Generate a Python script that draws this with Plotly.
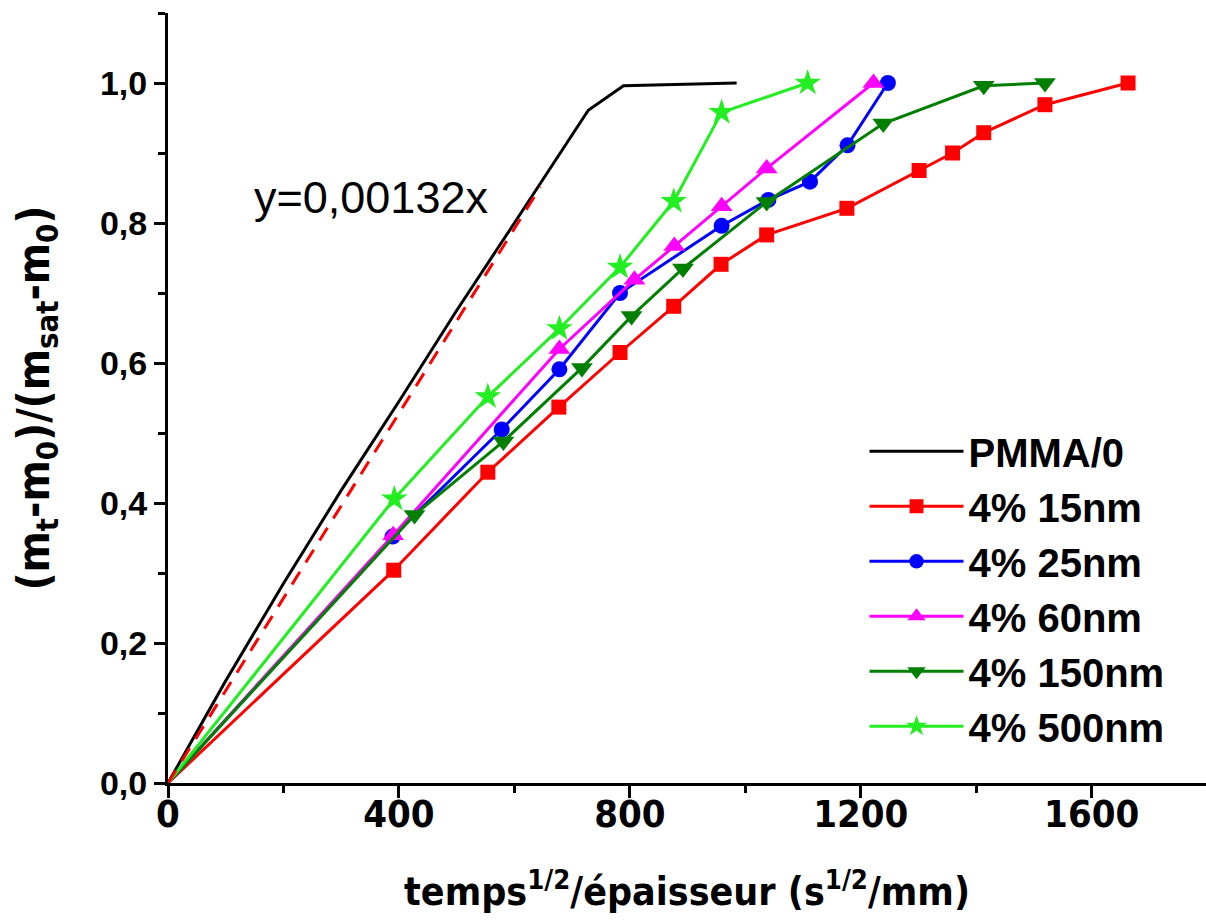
import plotly.graph_objects as go

# ---- data ----
pmma_x = [0, 100, 200, 300, 400, 500, 600, 728, 789, 985]
pmma_y = [0, 0.146, 0.285, 0.418, 0.545, 0.675, 0.800, 0.961, 0.996, 1.0]

fit_slope = 0.00132
fit_x = [0, 645]

nm15_x = [0, 391, 554, 677, 783, 876, 958, 1037, 1176, 1301, 1359, 1413, 1519, 1663]
nm15_y = [0, 0.304, 0.444, 0.537, 0.615, 0.681, 0.741, 0.783, 0.821, 0.875, 0.900, 0.929, 0.969, 1.0]

nm25_x = [0, 389, 578, 678, 783, 959, 1040, 1112, 1177, 1247]
nm25_y = [0, 0.352, 0.505, 0.591, 0.700, 0.796, 0.833, 0.859, 0.911, 1.0]

nm60_x = [0, 390, 678, 808, 877, 959, 1037, 1222]
nm60_y = [0, 0.354, 0.620, 0.719, 0.767, 0.824, 0.878, 1.0]

nm150_x = [0, 427, 581, 717, 803, 892, 1037, 1239, 1413, 1519]
nm150_y = [0, 0.383, 0.488, 0.593, 0.667, 0.735, 0.830, 0.942, 0.996, 1.0]

nm500_x = [0, 392, 554, 678, 783, 876, 959, 1108]
nm500_y = [0, 0.406, 0.552, 0.649, 0.737, 0.831, 0.958, 1.0]

y_tickvals = [0, 0.2, 0.4, 0.6, 0.8, 1.0]
y_ticktext = ["0,0", "0,2", "0,4", "0,6", "0,8", "1,0"]
x_tickvals = [0, 400, 800, 1200, 1600]
x_ticktext = ["0", "400", "800", "1200", "1600"]

series = [
    ("4% 15nm", nm15_x, nm15_y, "#ff0000", "square", 15),
    ("4% 25nm", nm25_x, nm25_y, "#0000ff", "circle", 16),
    ("4% 60nm", nm60_x, nm60_y, "#ff00ff", "triangle-up", 19),
    ("4% 150nm", nm150_x, nm150_y, "#007f00", "triangle-down", 19),
    ("4% 500nm", nm500_x, nm500_y, "#22ee22", "star", 20),
]

fig = go.Figure()

fig.add_trace(go.Scatter(
    x=pmma_x, y=pmma_y, mode="lines", name="PMMA/0", legendgroup="a",
    line=dict(color="black", width=3)))

for name, xs, ys, col, sym, sz in series:
    sizes = [0] + [sz] * (len(xs) - 1)
    fig.add_trace(go.Scatter(
        x=xs, y=ys, mode="lines+markers", name=name, legendgroup=name,
        line=dict(color=col, width=3),
        marker=dict(symbol=sym, size=sizes, color=col, opacity=1, line=dict(width=0))))

fig.add_trace(go.Scatter(
    x=fit_x, y=[fit_slope * v for v in fit_x], mode="lines", showlegend=False,
    line=dict(color="#ff0000", width=3, dash="15px,11px")))

fig.add_annotation(
    x=0.1956, y=0.76, xref="paper", yref="paper", xanchor="center", yanchor="middle",
    text="y=0,00132x", showarrow=False,
    font=dict(family="Liberation Sans, Arial", size=45, color="black"))

tick_font = dict(family="Liberation Sans, Arial", size=34, color="black", weight="bold")
narrow = "Liberation Sans Narrow, Arial Narrow, DejaVu Sans Condensed, Liberation Sans"

fig.update_layout(
    width=1206, height=923,
    margin=dict(l=168, r=0, t=13, b=140, autoexpand=False),
    paper_bgcolor="white", plot_bgcolor="white",
    showlegend=True,
    legend=dict(x=0.671, y=0.473, xanchor="left", yanchor="top",
                bgcolor="rgba(0,0,0,0)", borderwidth=0,
                font=dict(family="Liberation Sans, Arial", size=40, color="black", weight="bold"),
                tracegroupgap=0, itemwidth=94),
    xaxis=dict(range=[0, 1798], showgrid=False, zeroline=False, automargin=False,
               showline=True, linecolor="black", linewidth=3,
               ticks="outside", ticklen=12, tickwidth=3, tickcolor="black",
               tickvals=x_tickvals, ticktext=x_ticktext, ticklabelstandoff=-17,
               tickfont=dict(family=narrow, size=38, color="black", weight="bold"),
               minor=dict(dtick=200, tick0=0, ticks="outside", ticklen=7, tickwidth=3,
                          tickcolor="black", showgrid=False),
               title=dict(text="temps<sup>1/2</sup>/épaisseur (s<sup>1/2</sup>/mm)",
                          font=dict(family=narrow, size=39, color="black", weight="bold"),
                          standoff=44)),
    yaxis=dict(range=[0, 1.1], showgrid=False, zeroline=False, automargin=False,
               showline=True, linecolor="black", linewidth=3,
               ticks="outside", ticklen=11, tickwidth=3, tickcolor="black",
               tickvals=y_tickvals, ticktext=y_ticktext, ticklabelstandoff=0,
               tickfont=tick_font,
               minor=dict(dtick=0.1, tick0=0, ticks="outside", ticklen=7, tickwidth=3,
                          tickcolor="black", showgrid=False),
               title=dict(text="(m<sub>t</sub>-m<sub>0</sub>)/(m<sub>sat</sub>-m<sub>0</sub>)",
                          font=dict(family=narrow, size=44, color="black", weight="bold"),
                          standoff=37)),
)

fig.write_html("out.html", config={"displayModeBar": False},
               post_script="document.body.style.margin='0';document.body.style.overflow='hidden';")
